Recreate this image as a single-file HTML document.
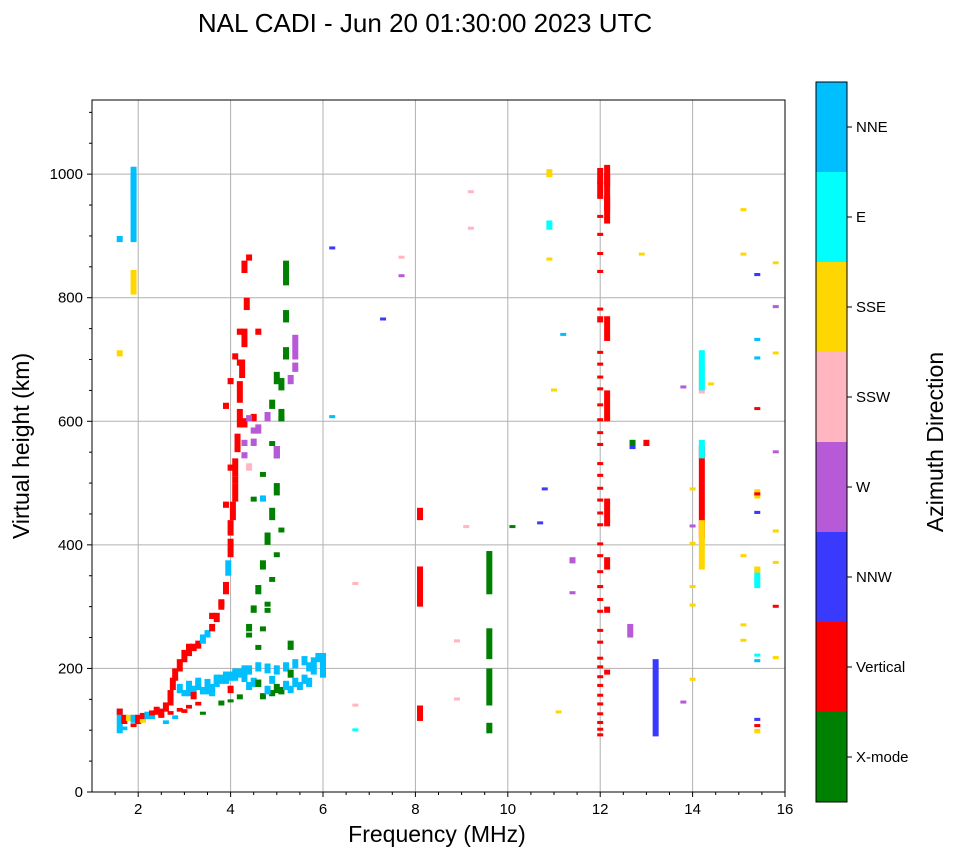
<!DOCTYPE html>
<html><head><meta charset="utf-8">
<style>
body{margin:0;background:#fff;}
svg{display:block;font-family:"Liberation Sans","DejaVu Sans",sans-serif;}
</style></head>
<body>
<svg id="chart" width="958" height="857" viewBox="0 0 958 857">
<text x="425" y="32" text-anchor="middle" font-size="26">NAL CADI - Jun 20 01:30:00 2023 UTC</text>
<g id="grid"></g>
<g id="marks"></g>
<rect x="92" y="100" width="693" height="692" fill="none" stroke="#000" stroke-width="1"/>
<g id="axes"></g>
<text x="437" y="842" text-anchor="middle" font-size="23">Frequency (MHz)</text>
<text transform="translate(29,446) rotate(-90)" text-anchor="middle" font-size="23">Virtual height (km)</text>
<g id="cbar"></g>
<text transform="translate(943,442) rotate(-90)" text-anchor="middle" font-size="23">Azimuth Direction</text>
</svg>
<script>
// Direction categories (bottom to top of colorbar)
const dirNames = ["X-mode","Vertical","NNW","W","SSW","SSE","E","NNE"];
const dirColors = ["#008000","#ff0000","#3a3aff","#b65ad8","#ffb6c1","#ffd700","#00ffff","#00bfff"];
const xTicks = [2,4,6,8,10,12,14,16];
const yTicks = [0,200,400,600,800,1000];
// Echoes: frequency (MHz), height low/high (km), direction index
const freqs = [1.6,1.6,1.7,1.8,1.9,2.0,2.1,2.2,2.3,2.4,2.5,2.6,2.7,2.75,2.8,2.9,3.0,3.1,3.2,3.3,3.4,3.5,3.6,3.7,3.8,3.9,3.95,4.0,4.0,4.05,4.1,4.1,4.15,4.2,4.2,4.25,4.3,4.35,4.3,4.4,
 2.7,2.9,3.1,3.3,3.5,3.7,3.9,4.1,4.3,4.5,3.0,3.2,3.4,3.6,3.8,4.0,4.2,4.4,4.6,4.8,5.0,5.2,5.4,5.6,5.8,5.9,6.0,4.7,4.9,5.1,5.3,5.5,5.7,
 3.4,3.8,4.0,4.2,4.4,4.5,4.6,4.7,4.8,4.9,5.0,5.0,5.1,5.1,5.2,5.2,5.2,4.9,5.0,5.3,
 4.5,4.6,4.8,5.0,5.3,5.4,4.4,4.6,5.4,4.7,4.3,4.5,
 1.9,1.9,1.9,1.6,1.6,
 12.0,12.0,12.0,12.0,12.0,12.0,12.0,12.0,12.0,12.0,12.0,12.0,12.0,12.0,12.0,12.0,12.0,12.0,12.0,12.0,
 12.15,12.15,12.15,12.15,12.15,12.15,12.15,12.15,12.15,
 13.2,12.65,12.7,14.2,14.2,14.2,14.2,14.2,8.1,8.1,8.1,9.6,9.6,9.6,9.6,
 15.4,15.4,15.4,15.4,15.4,15.4,15.4,15.4,15.4,15.4,15.4,15.4,15.4,15.4,15.1,15.1,15.1,15.1,15.1,
 15.8,15.8,15.8,15.8,15.8,15.8,15.8,15.8,
 10.9,10.9,10.9,11.0,11.4,11.4,11.2,12.9,12.7,13.0,14.0,14.0,14.0,14.0,14.0,14.0,14.4,13.8,13.8,
 6.2,6.2,6.7,6.7,6.7,7.7,7.7,9.2,9.2,8.9,9.1,10.7,10.8,11.1,10.1,7.3,8.9,
 12.0,12.0,12.0,12.0,12.0,12.0,12.0,12.0,12.0,12.0,12.0,12.0,12.0,12.0,12.0,12.0,12.0,12.0,12.0,12.0,
 3.1,3.3,3.5,3.7,3.9,4.1,4.3,3.2,3.6,4.0,4.4,4.8,5.0,5.2,5.4,5.6,5.8,4.6,4.9,5.3,5.7,
 3.9,4.0,4.1,4.2,4.3,4.4,3.9,4.1,4.3,4.5,4.2,4.0,3.8,3.6,
 4.6,4.7,4.8,4.9,5.0,5.1,4.5,4.7,4.9,5.1,4.4,4.8,5.2,
 2.5,2.7,2.9,3.1,3.3,2.6,2.8,3.0,1.7,1.9,2.1,2.3];
const hLow = [95,125,110,115,112,110,115,118,120,125,122,130,140,165,180,195,210,220,228,232,240,250,260,275,295,320,350,380,415,440,470,510,550,590,630,670,720,780,840,860,
 150,160,155,165,158,170,175,180,178,170,155,160,158,162,175,180,185,190,195,192,190,195,200,205,200,210,185,150,155,158,160,165,170,
 125,140,145,150,260,290,320,360,400,440,480,540,600,650,700,760,820,620,660,230,
 560,580,600,540,660,700,520,740,680,470,590,600,
 890,960,805,890,705,
 90,110,140,170,200,240,290,330,380,430,470,510,560,600,650,690,760,840,900,960,
 920,940,980,730,600,430,360,290,190,
 90,250,560,410,540,360,645,650,300,440,115,320,215,140,95,
 95,105,115,210,220,330,355,450,475,480,620,700,730,835,940,870,380,245,270,
 215,300,370,420,550,710,785,855,
 910,860,995,650,320,370,740,870,555,560,400,330,300,180,490,430,660,145,655,
 605,880,100,335,140,835,865,910,970,245,430,435,490,130,430,765,150,
 100,125,155,185,215,260,310,355,400,450,490,530,580,625,670,710,780,870,930,985,
 165,170,168,175,180,185,190,150,155,160,165,158,160,165,170,175,190,170,175,185,195,
 620,660,700,740,560,600,460,500,540,580,690,520,300,280,
 230,260,290,340,380,420,470,510,560,600,250,300,700,
 120,125,130,135,140,110,118,128,100,105,112,118];
const hHigh = [135,135,125,125,125,125,128,130,132,138,135,145,160,185,200,215,230,240,240,245,255,262,272,290,312,340,375,410,440,470,500,540,580,620,665,700,750,800,860,870,
 165,175,168,180,172,185,190,195,192,185,165,172,170,175,190,195,200,205,210,208,205,210,215,220,218,225,225,160,165,170,172,178,185,
 130,148,150,158,272,302,335,375,420,460,500,560,620,670,720,780,860,635,680,245,
 572,595,615,560,675,740,532,750,695,480,605,612,
 1012,1000,845,900,715,
 95,115,145,175,205,245,295,335,385,435,475,515,565,605,655,695,770,845,905,1010,
 1015,965,1000,770,650,475,380,300,198,
 215,272,570,560,570,440,695,715,365,460,140,390,265,200,112,
 102,110,120,215,224,360,365,455,490,485,623,705,735,840,945,873,385,248,273,
 220,303,374,425,553,713,788,859,
 925,865,1008,653,325,380,743,873,560,570,405,335,305,185,493,433,663,148,658,
 610,883,103,340,143,838,868,915,974,247,432,438,493,132,432,768,153,
 104,129,159,189,219,264,314,359,404,454,494,534,584,629,674,714,784,874,934,989,
 180,185,183,190,195,200,205,162,168,172,178,172,175,180,185,190,205,182,188,198,210,
 630,670,710,750,570,610,470,510,550,590,700,530,310,290,
 238,268,298,348,388,428,478,518,568,608,258,308,708,
 126,131,136,141,146,116,124,134,106,111,118,124];
const dirs = [7,1,1,5,7,1,1,7,1,1,1,1,1,1,1,1,1,1,1,1,7,7,1,1,1,1,7,1,1,1,1,1,1,1,1,1,1,1,1,1,
 1,7,7,7,7,7,7,7,7,7,7,7,7,7,7,7,7,7,7,7,7,7,7,7,7,7,7,0,0,0,7,7,7,
 0,0,0,0,0,0,0,0,0,0,0,0,0,0,0,0,0,0,0,0,
 3,3,3,3,3,3,4,1,3,7,1,1,
 7,7,5,7,5,
 1,1,1,1,1,1,1,1,1,1,1,1,1,1,1,1,1,1,1,1,
 1,1,1,1,1,1,1,1,1,
 2,3,0,1,6,5,4,6,1,1,1,0,0,0,0,
 5,1,2,7,6,6,5,2,5,1,1,7,7,2,5,5,5,5,5,
 5,1,5,5,3,5,3,5,
 6,5,5,5,3,3,7,5,2,1,5,5,5,5,5,3,5,3,3,
 7,2,6,4,4,3,4,4,4,4,4,2,2,5,0,2,4,
 1,1,1,1,1,1,1,1,1,1,1,1,1,1,1,1,1,1,1,1,
 7,7,7,7,7,7,7,1,7,1,7,7,0,7,7,7,7,0,7,0,7,
 1,1,1,1,3,3,1,1,3,3,1,1,1,1,
 0,0,0,0,0,0,0,0,0,0,0,0,0,
 1,1,1,1,1,7,7,1,7,1,5,7];

const NS="http://www.w3.org/2000/svg";
const X0=92,X1=785,Y0=792,Y1=100;
function xs(f){return X0+(f-1)/(16-1)*(X1-X0);}
function ys(h){return Y0-h/1120*(Y0-Y1);}
function mk(tag,attrs,parent){const e=document.createElementNS(NS,tag);for(const k in attrs)e.setAttribute(k,attrs[k]);parent.appendChild(e);return e;}
const grid=document.getElementById('grid'),axes=document.getElementById('axes'),marks=document.getElementById('marks'),cbar=document.getElementById('cbar');
xTicks.forEach(t=>{
  const x=xs(t);
  if(t<16){const g=mk('line',{x1:x,x2:x,y1:Y1,y2:Y0,stroke:'#b0b0b0','stroke-width':1},grid);
  
  }
  mk('line',{x1:x,x2:x,y1:Y0,y2:Y0+5,stroke:'#000'},axes);
  const l=mk('text',{x:x,y:Y0+22,'text-anchor':'middle','font-size':15},axes);l.textContent=t;
  
  
});
yTicks.forEach(t=>{
  const y=ys(t);
  if(t>0){const g=mk('line',{x1:X0,x2:X1,y1:y,y2:y,stroke:'#b0b0b0','stroke-width':1},grid);
  
  }
  mk('line',{x1:X0-5,x2:X0,y1:y,y2:y,stroke:'#000'},axes);
  const l=mk('text',{x:X0-9,y:y+5,'text-anchor':'end','font-size':15},axes);l.textContent=t;
  
  
});
for(let h=50;h<1120;h+=50){if(h%200)mk('line',{x1:X0-3,x2:X0,y1:ys(h),y2:ys(h),stroke:'#000'},axes);}
for(let f=1.5;f<16;f+=0.5){if(f%2)mk('line',{x1:xs(f),x2:xs(f),y1:Y0,y2:Y0+3,stroke:'#000'},axes);}
for(let i=0;i<freqs.length;i++){
  const y2=ys(hHigh[i]),y1=ys(hLow[i]);
  const r=mk('rect',{x:xs(freqs[i])-3,y:y2,width:6,height:Math.max(3,y1-y2),fill:dirColors[dirs[i]]},marks);
  
  
}
const CX=816,CW=31,CT=82,SEG=90;
dirNames.forEach((n,i)=>{
  const y=CT+(7-i)*SEG;
  const r=mk('rect',{x:CX,y:y,width:CW,height:SEG,fill:dirColors[i]},cbar);
  
  
  mk('line',{x1:CX+CW,x2:CX+CW+5,y1:y+SEG/2,y2:y+SEG/2,stroke:'#000'},cbar);
  const t=mk('text',{x:CX+CW+9,y:y+SEG/2+5,'font-size':15},cbar);t.textContent=n;
  
  
});
mk('rect',{x:CX,y:CT,width:CW,height:SEG*8,fill:'none',stroke:'#000'},cbar);
</script>
</body></html>
